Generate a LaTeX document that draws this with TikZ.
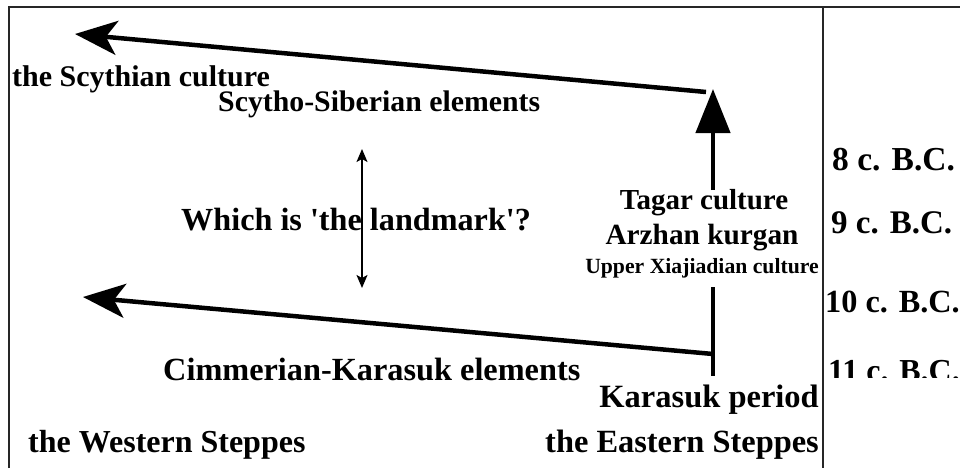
\documentclass[tikz,border=0pt]{standalone}
\usepackage{fontspec}
\setmainfont{Liberation Serif}
\usetikzlibrary{arrows.meta}
\newcommand\mysz[1]{\fontsize{#1}{#1}\selectfont}
\begin{document}
\begin{tikzpicture}[x=1pt,y=-1pt,
  lbl/.style={inner sep=0pt,font=\bfseries},
  frame/.style={line width=2pt,black!85},
  bigarrow/.style={line width=4.5pt,-{Stealth[length=42pt,width=34pt,inset=11pt]}},
  uparrow/.style={line width=4.5pt,-{Triangle[length=44pt,width=34pt]}},
  twoway/.style={line width=1.5pt,{Stealth[length=13pt,width=11pt,inset=3pt]}-{Stealth[length=13pt,width=11pt,inset=3pt]}},
  bar/.style={line width=4.5pt}]
\useasboundingbox (0,0) rectangle (960,468);
\fill[white] (0,0) rectangle (960,468);
% frame
\draw[frame] (9,468) -- (9,7) -- (960,7);
\draw[frame] (823,7) -- (823,468);

% texts
\node[lbl,anchor=base west,font=\bfseries\mysz{30}] (scyth) at (12,87) {the Scythian culture};
\node[lbl,anchor=base west,font=\bfseries\mysz{29.8}] (sse) at (218,112) {Scytho-Siberian elements};
\node[lbl,anchor=base west,font=\bfseries\mysz{33.5}] (c8) at (832,170) {8 c. B.C.};
\node[lbl,anchor=base west,font=\bfseries\mysz{32.2}] (which) at (181,230) {Which is \textquotesingle the landmark\textquotesingle ?};
\node[lbl,anchor=base,font=\bfseries\mysz{29}] (tagar) at (704,209) {Tagar culture};
\node[lbl,anchor=base west,font=\bfseries\mysz{33}] (c9) at (831,233) {9 c. B.C.};
\node[lbl,anchor=base,font=\bfseries\mysz{29.3}] (arzhan) at (702,244) {Arzhan kurgan};
\node[lbl,anchor=base,font=\bfseries\mysz{21.7}] (upper) at (702,273) {Upper Xiajiadian culture};
\node[lbl,anchor=base west,font=\bfseries\mysz{32.3}] (c10) at (825,312) {10 c. B.C.};
\begin{scope}
\clip (824,330) rectangle (960,377);
\node[lbl,anchor=base west,font=\bfseries\mysz{32}] (c11) at (828,381) {11 c. B.C.};
\end{scope}
\node[lbl,anchor=base west,font=\bfseries\mysz{32.3}] (cimm) at (163,380) {Cimmerian-Karasuk elements};
\node[lbl,anchor=base east,font=\bfseries\mysz{32.5}] (kara) at (819,407) {Karasuk period};
\node[lbl,anchor=base west,font=\bfseries\mysz{32}] (west) at (28,452) {the Western Steppes};
\node[lbl,anchor=base east,font=\bfseries\mysz{32.4}] (east) at (819,452) {the Eastern Steppes};

% connector points
\coordinate (topend) at (706,92);
\coordinate (toptip) at (75,34);
\coordinate (upbase) at (713,190);
\coordinate (uptip) at (713,89);
\coordinate (vtop) at (713,287);
\coordinate (vbot) at (713,376);
\coordinate (lowstart) at (713,354);
\coordinate (lowtip) at (83,297);
\coordinate (dtop) at (362,149);
\coordinate (dbot) at (362,288);

\draw[bigarrow] (topend) -- (toptip);
\draw[uparrow] (upbase) -- (uptip);
\draw[bar] (vtop) -- (vbot);
\draw[bigarrow] (lowstart) -- (lowtip);
\draw[twoway] (dtop) -- (dbot);
\end{tikzpicture}
\end{document}
